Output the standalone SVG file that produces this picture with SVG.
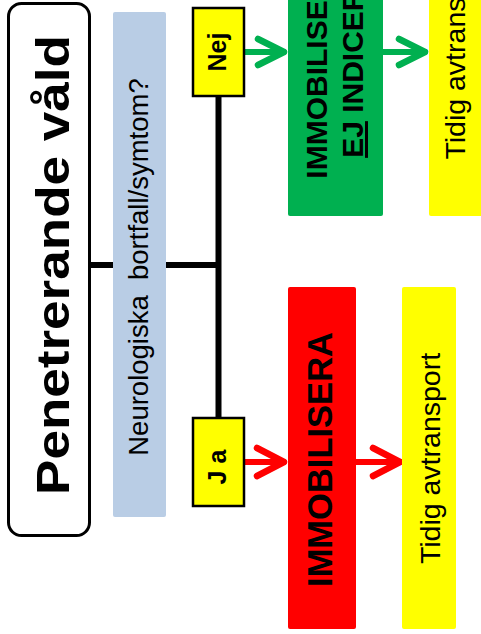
<svg xmlns="http://www.w3.org/2000/svg" width="481" height="634" viewBox="0 0 481 634">
  <style>
    .lbl { font-family: "Liberation Sans", Arial, sans-serif; fill: #000; }
    .b { font-weight: bold; }
    .conn { stroke: #000; stroke-width: 6; fill: none; }
    .arr-g { stroke: #00B050; stroke-width: 6; fill: none; stroke-linecap: round; }
    .arr-r { stroke: #FF0000; stroke-width: 6; fill: none; stroke-linecap: round; }
    .tag { fill: #FFFF00; stroke: #000; stroke-width: 2.5; }
  </style>
  <defs>
    <marker id="chev-g" markerUnits="userSpaceOnUse" orient="auto" overflow="visible" markerWidth="1" markerHeight="1" refX="0" refY="0">
      <path d="M-26,-13 L0,0 L-26,13" fill="none" stroke="#00B050" stroke-width="6.5" stroke-linecap="round" stroke-linejoin="round"/>
    </marker>
    <marker id="chev-r" markerUnits="userSpaceOnUse" orient="auto" overflow="visible" markerWidth="1" markerHeight="1" refX="0" refY="0">
      <path d="M-27,-14 L0,0 L-27,14" fill="none" stroke="#FF0000" stroke-width="6.5" stroke-linecap="round" stroke-linejoin="round"/>
    </marker>
  </defs>

  <rect width="481" height="634" fill="#FFFFFF"/>

  <!-- connectors -->
  <g id="connectors">
    <path class="conn" d="M90,265 H218"/>
    <path class="conn" d="M218.5,96 V418"/>
    <path class="arr-g" d="M244,52 H284" marker-end="url(#chev-g)"/>
    <path class="arr-g" d="M383,52 H425" marker-end="url(#chev-g)"/>
    <path class="arr-r" d="M244,462 H284" marker-end="url(#chev-r)"/>
    <path class="arr-r" d="M356,462 H400" marker-end="url(#chev-r)"/>
  </g>

  <!-- start node -->
  <g id="start">
    <rect x="8.5" y="3.5" width="81" height="532" rx="13" ry="13" fill="#FFFFFF" stroke="#000" stroke-width="3"/>
    <text class="lbl b" font-size="47" text-anchor="middle" textLength="460" lengthAdjust="spacingAndGlyphs" transform="translate(69,265) rotate(-90)">Penetrerande våld</text>
  </g>

  <!-- question -->
  <g id="question">
    <rect x="113" y="12" width="53" height="505" rx="2" fill="#B9CDE5"/>
    <text class="lbl" font-size="27.5" text-anchor="middle" xml:space="preserve" style="white-space:pre" transform="translate(148,267) rotate(-90)">Neurologiska  bortfall/symtom?</text>
  </g>

  <!-- answers -->
  <g id="nej">
    <rect class="tag" x="193" y="8" width="51" height="88"/>
    <text class="lbl b" font-size="25" text-anchor="middle" transform="translate(226,52) rotate(-90)">Nej</text>
  </g>
  <g id="ja">
    <rect class="tag" x="193" y="418" width="51" height="88"/>
    <text class="lbl b" font-size="25" text-anchor="middle" xml:space="preserve" style="white-space:pre" transform="translate(226,467) rotate(-90)">J a</text>
  </g>

  <!-- no branch -->
  <g id="no-immobilisation">
    <rect x="288" y="-126" width="95" height="342" rx="2" fill="#00B050"/>
    <text class="lbl b" font-size="30" text-anchor="middle" transform="translate(327,52) rotate(-90)">IMMOBILISERING</text>
    <text class="lbl b" font-size="30" text-anchor="middle" transform="translate(363,52) rotate(-90)"><tspan text-decoration="underline">EJ</tspan> INDICERAD</text>
  </g>
  <g id="transport-no">
    <rect x="429" y="-126" width="54" height="342" rx="2" fill="#FFFF00"/>
    <text class="lbl" font-size="28.5" text-anchor="middle" transform="translate(465,54) rotate(-90)">Tidig avtransport</text>
  </g>

  <!-- yes branch -->
  <g id="immobilisation">
    <rect x="288" y="287" width="68" height="342" rx="2" fill="#FF0000"/>
    <text class="lbl b" font-size="34.5" text-anchor="middle" transform="translate(332,459.5) rotate(-90)">IMMOBILISERA</text>
  </g>
  <g id="transport-yes">
    <rect x="402" y="287" width="54" height="342" rx="2" fill="#FFFF00"/>
    <text class="lbl" font-size="28.5" text-anchor="middle" transform="translate(440,458.5) rotate(-90)">Tidig avtransport</text>
  </g>
</svg>
